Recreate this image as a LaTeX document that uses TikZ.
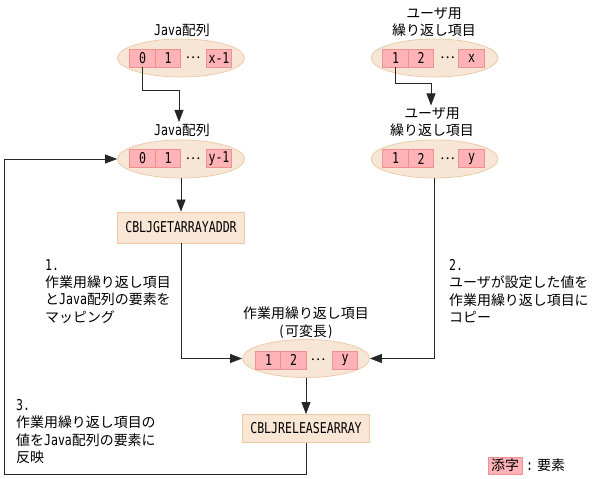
\documentclass[tikz,border=0pt]{standalone}
\usepackage{fontspec}
\setmainfont{Noto Sans CJK JP}
\newfontfamily\hwfont[FakeStretch=0.775,Scale=1.07]{DejaVu Sans Mono}
\newcommand\hw[1]{{\hwfont #1}}
\usetikzlibrary{shapes.geometric,arrows.meta}
\definecolor{ellfill}{HTML}{F7E6D6}
\definecolor{elldraw}{HTML}{EBCBA9}
\definecolor{cellfill}{HTML}{FFB3B6}
\definecolor{celldraw}{HTML}{F09090}
\definecolor{boxfill}{HTML}{F9E6D4}
\definecolor{boxdraw}{HTML}{ECC8A6}
\begin{document}
\begin{tikzpicture}[x=1bp,y=-1bp,
  every node/.style={font=\fontsize{14}{17.5}\selectfont, inner sep=0pt},
  ell/.style={ellipse, fill=ellfill, draw=elldraw, line width=0.8bp, minimum width=127bp, minimum height=38bp},
  cell/.style={rectangle, fill=cellfill, draw=celldraw, line width=0.8bp, minimum width=25.5bp, minimum height=18bp, font=\fontsize{14}{17}\hwfont},
  dots/.style={font=\fontsize{14}{17}\selectfont},
  fbox/.style={rectangle, fill=boxfill, draw=boxdraw, line width=0.8bp, minimum width=127bp, minimum height=31bp, font=\fontsize{14}{17}\hwfont},
  conn/.style={draw=black!85, line width=0.8bp},
  arr/.style={conn, -{Triangle[length=12bp,width=9bp]}},
  lbl/.style={align=center, inner ysep=1.5bp}
]
\path[use as bounding box] (0,0) rectangle (593,479);

% top left Java array
\node[lbl] (jl1) at (182,30) {\hw{Java}配列};
\node[ell] (je1) at (181,58) {};
\node[cell] (ja0) at (142.5,58) {0};
\node[cell] (ja1) at (168,58) {1};
\node[dots] (jad) at (193,58) {…};
\node[cell] (jax) at (219,58) {x-1};

% top right user array
\node[lbl] (ul1) at (434,22) {ユーザ用\\繰り返し項目};
\node[ell] (ue1) at (434.5,58) {};
\node[cell] (ua1) at (395.5,58) {1};
\node[cell] (ua2) at (421,58) {2};
\node[dots] (uad) at (447.5,58) {…};
\node[cell] (uax) at (471.5,58) {x};

% second left Java array
\node[lbl] (jl2) at (182,130) {\hw{Java}配列};
\node[ell] (je2) at (181,159) {};
\node[cell] (jb0) at (142.5,158.5) {0};
\node[cell] (jb1) at (168,158.5) {1};
\node[dots] (jbd) at (193,158.5) {…};
\node[cell] (jby) at (219,158.5) {y-1};

% second right user array
\node[lbl] (ul2) at (432,122) {ユーザ用\\繰り返し項目};
\node[ell] (ue2) at (434.5,159) {};
\node[cell] (ub1) at (395.5,158.5) {1};
\node[cell] (ub2) at (421,158.5) {2};
\node[dots] (ubd) at (447.5,158.5) {…};
\node[cell] (uby) at (471.5,158.5) {y};

% CBLJGETARRAYADDR
\node[fbox] (get) at (181,227.5) {CBLJGETARRAYADDR};

% work array
\node[lbl] (wl) at (306,322.5) {作業用繰り返し項目\\\hw{(}可変長\hw{)}};
\node[ell] (we) at (306,358.5) {};
\node[cell] (w1) at (268.5,360) {1};
\node[cell] (w2) at (293.5,360) {2};
\node[dots] (wd) at (318,360) {…};
\node[cell] (wy) at (345,360) {y};

% CBLJRELEASEARRAY
\node[fbox, minimum height=28bp] (rel) at (306,428.5) {CBLJRELEASEARRAY};

% explanatory texts
\node[anchor=north west, align=left] (t1) at (45,259) {\hw{1.}\\作業用繰り返し項目\\と\hw{Java}配列の要素を\\マッピング};
\node[anchor=north west, align=left] (t2) at (449,259) {\hw{2.}\\ユーザが設定した値を\\作業用繰り返し項目に\\コピー};
\node[anchor=north west, align=left] (t3) at (16,399) {\hw{3.}\\作業用繰り返し項目の\\値を\hw{Java}配列の要素に\\反映};

% legend
\node[rectangle, fill=cellfill, draw=celldraw, line width=0.8bp, minimum width=34bp, minimum height=17bp] (lg) at (505,465.5) {添字};
\node[anchor=west] (lgt) at (526,465.5) {\hw{:}\hspace{4bp}要素};

% connectors
\coordinate (k1) at (179,90);
\draw[arr] (ja0.south) |- (k1) -- (k1 |- jl2.north);
\coordinate (k2) at (431,83);
\draw[arr] (ua1.south) |- (k2) -- (k2 |- ul2.north);
\draw[arr] (je2.south) -- (get.north);
\draw[arr] (get.south) |- (we.west);
\draw[arr] (ue2.south) |- (we.east);
\draw[arr] (we.south) -- (rel.north);
\coordinate (k3) at (4,474);
\draw[arr] (rel.south) |- (k3) |- (je2.west);
\end{tikzpicture}
\end{document}
